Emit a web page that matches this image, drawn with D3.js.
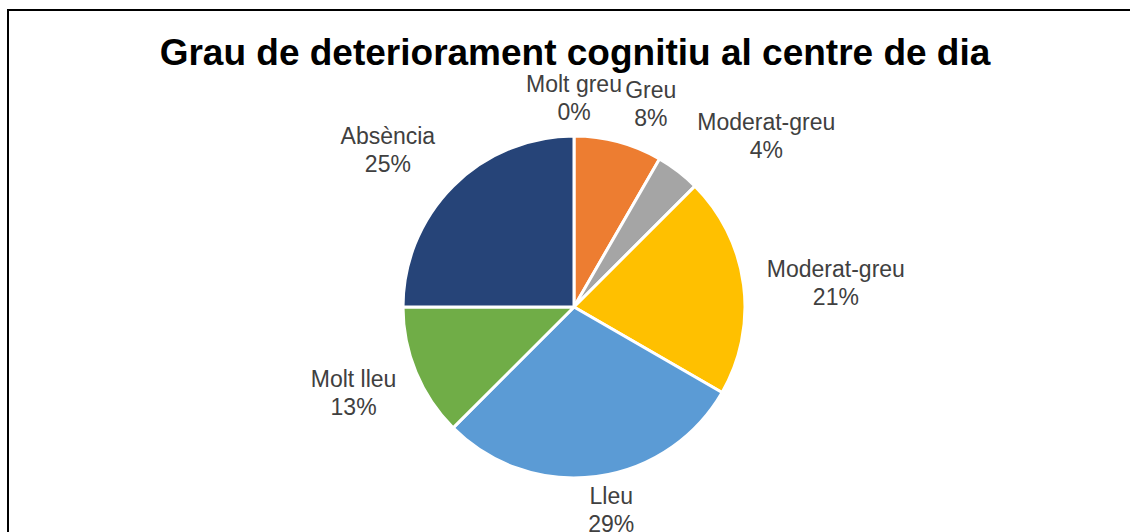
<!DOCTYPE html>
<meta charset="utf-8">
<script src="https://d3js.org/d3.v7.min.js"></script>
<style>
  body { margin: 0; background: #fff; }
</style>
<div id="my_dataviz"></div>
<script>
// data: number of users per level (out of 24)
var categories = ["Molt greu", "Greu", "Moderat-greu", "Moderat-greu", "Lleu", "Molt lleu", "Absència"];
var counts     = [0, 2, 1, 5, 7, 3, 6];
var colors     = ["#4472C4", "#ED7D31", "#A5A5A5", "#FFC000", "#5B9BD5", "#70AD47", "#264478"];
var title = "Grau de deteriorament cognitiu al centre de dia";

var W = 1130, H = 532;
var cx = 574, cy = 307, r = 171;

var svg = d3.select("#my_dataviz")
  .append("svg")
    .attr("width", W)
    .attr("height", H);

// chart frame (runs off the right and bottom edge)
svg.append("rect")
  .attr("x", 8).attr("y", 10)
  .attr("width", W + 20).attr("height", H + 20)
  .attr("fill", "none")
  .attr("stroke", "#000")
  .attr("stroke-width", 2);

svg.append("text")
  .attr("x", 575)
  .attr("y", 65)
  .attr("text-anchor", "middle")
  .style("font-family", "Liberation Sans, Arial, sans-serif")
  .style("font-weight", "bold")
  .style("font-size", "37px")
  .text(title);

var data = categories.map(function(c, i) { return {name: c, value: counts[i], color: colors[i]}; });
var total = d3.sum(counts);

var pie = d3.pie()
  .sort(null)
  .value(function(d) { return d.value; });

var arc = d3.arc()
  .innerRadius(0)
  .outerRadius(r);

var g = svg.append("g")
  .attr("transform", "translate(" + cx + "," + cy + ")");

var arcs = pie(data);

g.selectAll("path")
  .data(arcs.filter(function(d) { return d.value > 0; }))
  .enter()
  .append("path")
    .attr("d", arc)
    .attr("fill", function(d) { return d.data.color; })
    .attr("stroke", "#fff")
    .attr("stroke-width", 3)
    .attr("stroke-linejoin", "round");

// labels: outside the pie, pushed out by half their box along the mid angle
var gap = 15;
// small manual nudges where Excel shuffled labels to avoid overlap
var nudge = [[0, 4], [22, 3], [37, -2], [9, 4], [10, -8], [-9, 4], [-21, -6]];

var labels = g.selectAll("g.lbl")
  .data(arcs)
  .enter()
  .append("g")
    .attr("class", "lbl");

labels.each(function(d, i) {
  var t = d3.select(this).append("text")
    .attr("text-anchor", "middle")
    .style("font-family", "Liberation Sans, Arial, sans-serif")
    .style("font-size", "23px")
    .attr("fill", "#404040");
  t.append("tspan").attr("x", 0).attr("dy", 0).text(d.data.name);
  t.append("tspan").attr("x", 0).attr("dy", 28)
    .text(Math.round(d.value / total * 100) + "%");
  var bb = this.getBBox();
  var a = (d.startAngle + d.endAngle) / 2;
  var s = Math.sin(a), c = Math.cos(a);
  var px = (r + gap) * s + s * bb.width / 2 + nudge[i][0];
  var py = -(r + gap) * c - c * bb.height / 2 + nudge[i][1];
  // move box centre to (px, py)
  var bx = bb.x + bb.width / 2, by = bb.y + bb.height / 2;
  d3.select(this).attr("transform", "translate(" + (px - bx) + "," + (py - by) + ")");
});
</script>
